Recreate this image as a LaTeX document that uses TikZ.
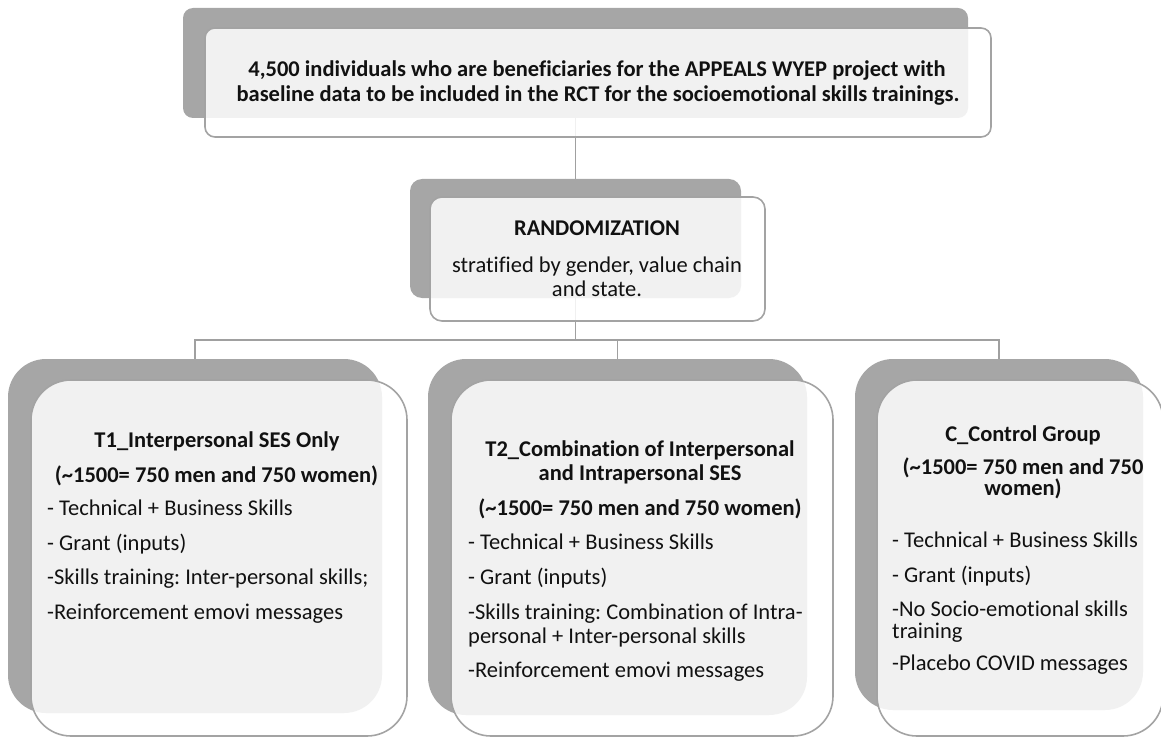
\documentclass[tikz,border=0pt]{standalone}
\usepackage{fontspec}
\setmainfont{Carlito}[Ligatures=NoCommon]
\frenchspacing
\pgfdeclarelayer{bg}
\pgfsetlayers{bg,main}
\definecolor{backgray}{HTML}{A6A6A6}
\definecolor{edgegray}{HTML}{A3A3A3}
\definecolor{linegray}{HTML}{A0A0A0}
\definecolor{textblack}{HTML}{111111}
\tikzset{
  backbox/.style={fill=backgray, draw=none, rounded corners=#1, inner sep=0pt},
  frontbox/.style={fill=white, fill opacity=0.85, draw=edgegray, line width=1.6pt, rounded corners=#1, inner sep=0pt},
  conn/.style={draw=linegray, line width=1.4pt},
  bt/.style={font=\bfseries\fontsize{22.5}{24}\selectfont, text=textblack, anchor=base, inner sep=0pt},
  rt/.style={font=\fontsize{22.5}{24}\selectfont, text=textblack, anchor=base, inner sep=0pt},
  lt/.style={font=\fontsize{22.5}{24}\selectfont, text=textblack, anchor=base west, inner sep=0pt},
}
\begin{document}
\begin{tikzpicture}[x=1pt,y=-1pt]
\useasboundingbox (0,0) rectangle (1161,738);
% back boxes
\node[backbox=10pt, minimum width=785pt, minimum height=110pt] (topB) at (575.5,63) {};
\node[backbox=12pt, minimum width=331pt, minimum height=119pt] (randB) at (575.5,238.5) {};
\node[backbox=38pt, minimum width=374pt, minimum height=354pt] (t1B) at (195,536) {};
\node[backbox=38pt, minimum width=379pt, minimum height=356pt] (t2B) at (617.5,537) {};
\node[backbox=38pt, minimum width=288pt, minimum height=351pt] (cB) at (999,534.5) {};
% front boxes
\node[frontbox=10pt, minimum width=786pt, minimum height=109pt] (topF) at (598,82.5) {};
\node[frontbox=12pt, minimum width=335pt, minimum height=124pt] (randF) at (597.5,259) {};
\node[frontbox=40pt, minimum width=376pt, minimum height=356pt] (t1F) at (219,558) {};
\node[frontbox=40pt, minimum width=382pt, minimum height=356pt] (t2F) at (642,558) {};
\node[frontbox=40pt, minimum width=286pt, minimum height=356pt] (cF) at (1020,558) {};
% connectors
\coordinate (hub) at (575.5,340);
\begin{pgfonlayer}{bg}
\draw[conn] (topB.south) -- (randB.north);
\draw[conn] (randB.south) -- (hub);
\draw[conn] (t1B.north) |- (hub) -| (cB.north);
\draw[conn] (hub) -| (t2B.north);
\end{pgfonlayer}
% top text
\node[bt] (top1) at (597,77) {4,500 individuals who are beneficiaries for the APPEALS WYEP project with};
\node[bt] (top2) at (598,102) {baseline data to be included in the RCT for the socioemotional skills trainings.};
% randomization text
\node[bt] (r1) at (597,235) {RANDOMIZATION};
\node[rt] (r2) at (597,272) {stratified by gender, value chain};
\node[rt] (r3) at (597,296) {and state.};
% T1
\node[bt] (a1) at (217,447) {T1\_Interpersonal SES Only};
\node[bt] (a2) at (216.5,482) {(\textasciitilde1500= 750 men and 750 women)};
\node[lt] (a3) at (47,515) {- Technical + Business Skills};
\node[lt] (a4) at (47,550) {- Grant (inputs)};
\node[lt] (a5) at (47,584) {-Skills training: Inter-personal skills;};
\node[lt] (a6) at (47,619) {-Reinforcement emovi messages};
% T2
\node[bt] (b1) at (640,456) {T2\_Combination of Interpersonal};
\node[bt] (b2) at (640,480) {and Intrapersonal SES};
\node[bt] (b3) at (640,515) {(\textasciitilde1500= 750 men and 750 women)};
\node[lt] (b4) at (468,549) {- Technical + Business Skills};
\node[lt] (b5) at (468,584) {- Grant (inputs)};
\node[lt] (b6) at (468,619) {-Skills training: Combination of Intra-};
\node[lt] (b7) at (468,643) {personal + Inter-personal skills};
\node[lt] (b8) at (468,677) {-Reinforcement emovi messages};
% C
\node[bt] (c1) at (1023,441) {C\_Control Group};
\node[bt] (c2) at (1023,474) {(\textasciitilde1500= 750 men and 750};
\node[bt] (c3) at (1023,495) {women)};
\node[lt] (c4) at (892,547) {- Technical + Business Skills};
\node[lt] (c5) at (892,582) {- Grant (inputs)};
\node[lt] (c6) at (892,616) {-No Socio-emotional skills};
\node[lt] (c7) at (892,638) {training};
\node[lt] (c8) at (892,670) {-Placebo COVID messages};
\end{tikzpicture}
\end{document}
